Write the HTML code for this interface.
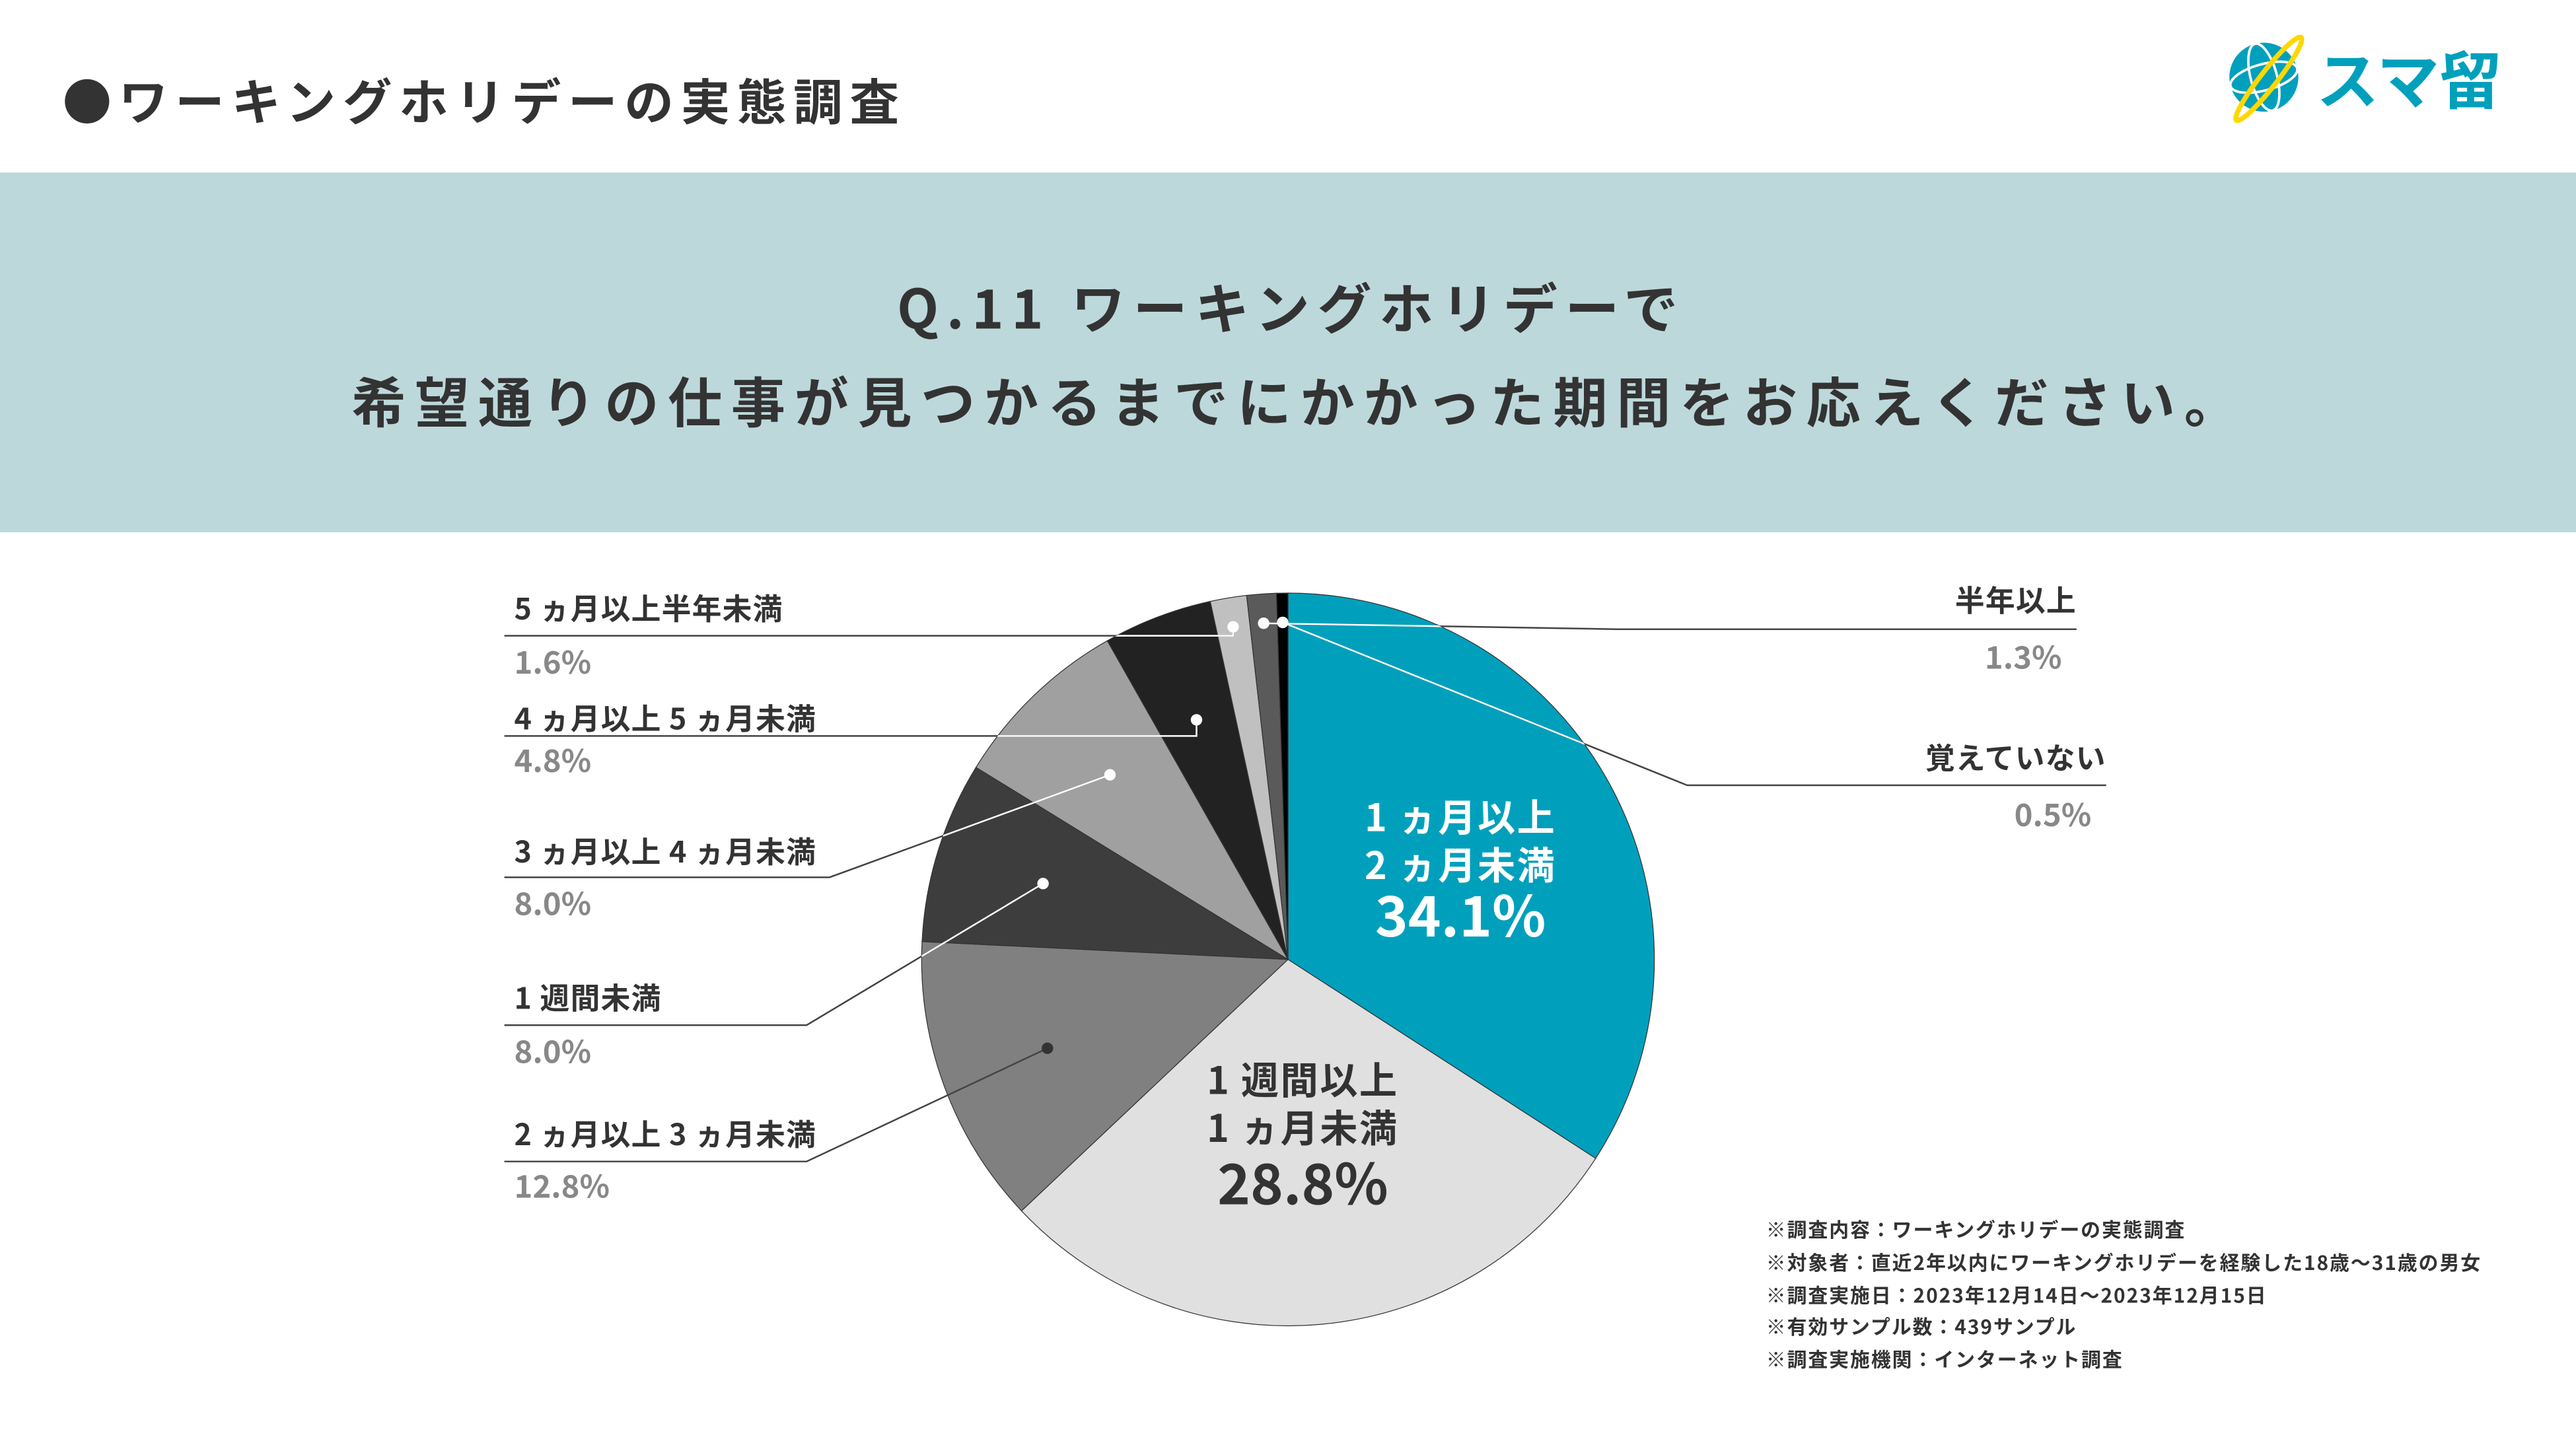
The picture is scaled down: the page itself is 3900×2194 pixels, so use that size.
<!DOCTYPE html>
<html><head><meta charset="utf-8">
<style>
html,body{margin:0;padding:0;background:#fff;}
svg{display:block;}
text{font-family:"Noto Sans CJK JP","Liberation Sans",sans-serif;font-weight:bold;}
</style></head>
<body>
<svg id="chart" width="3900" height="2194" viewBox="0 0 1568 882" preserveAspectRatio="none" xmlns="http://www.w3.org/2000/svg">
<defs><clipPath id="pieclip"><circle cx="784" cy="584" r="223"/></clipPath></defs>
<rect x="0" y="0" width="1568" height="882" fill="#ffffff"/>
<text x="38" y="73" font-size="30" fill="#333" letter-spacing="4.3">●ワーキングホリデーの実態調査</text>
<g>
<circle cx="1378" cy="47" r="21" fill="#00a0bc"/>
<ellipse cx="1378" cy="47" rx="21" ry="8" fill="none" stroke="#fff" stroke-width="1.5" transform="rotate(-15 1378 47)"/>
<ellipse cx="1378" cy="47" rx="8" ry="21" fill="none" stroke="#fff" stroke-width="1.5" transform="rotate(-15 1378 47)"/>
<ellipse cx="1381" cy="48" rx="32" ry="5" fill="none" stroke="#ffd700" stroke-width="3" transform="rotate(-52 1381 48)"/>
<text x="1410" y="63" font-size="38" fill="#00a0bc">スマ留</text>
</g>
<rect x="0" y="105" width="1568" height="219" fill="#bdd8db"/>
<text x="786" y="200" font-size="33" fill="#333" text-anchor="middle" letter-spacing="4.7">Q.11 ワーキングホリデーで</text>
<text x="791" y="257" font-size="33" fill="#333" text-anchor="middle" letter-spacing="5.5">希望通りの仕事が見つかるまでにかかった期間をお応えください。</text>
<g id="pie"></g>
<g id="labels"></g>
<g font-size="12" fill="#333" letter-spacing="0.8">
<text x="1075" y="753" font-weight="normal">※調査内容：ワーキングホリデーの実態調査</text>
<text x="1075" y="773" font-weight="normal">※対象者：直近2年以内にワーキングホリデーを経験した18歳〜31歳の男女</text>
<text x="1075" y="793" font-weight="normal">※調査実施日：2023年12月14日〜2023年12月15日</text>
<text x="1075" y="812" font-weight="normal">※有効サンプル数：439サンプル</text>
<text x="1075" y="832" font-weight="normal">※調査実施機関：インターネット調査</text>
</g>
</svg>
<script>
const categories = ["1ヵ月以上2ヵ月未満","1週間以上1ヵ月未満","2ヵ月以上3ヵ月未満","1週間未満","3ヵ月以上4ヵ月未満","4ヵ月以上5ヵ月未満","5ヵ月以上半年未満","半年以上","覚えていない"];
const values = [34.1, 28.8, 12.8, 8.0, 8.0, 4.8, 1.6, 1.3, 0.5];
const valueLabels = ["34.1%","28.8%","12.8%","8.0%","8.0%","4.8%","1.6%","1.3%","0.5%"];
const colors = ["#00a0bc","#e0e0e0","#808080","#3d3d3d","#a0a0a0","#222222","#c0c0c0","#5a5a5a","#000000"];

const NS="http://www.w3.org/2000/svg";
const cx=784, cy=584, R=223;
const total=values.reduce((a,b)=>a+b,0);
function pt(frac,r){const a=frac*2*Math.PI;return [cx+r*Math.sin(a), cy-r*Math.cos(a)];}
function mk(tag,attrs,parent){const e=document.createElementNS(NS,tag);for(const k in attrs)e.setAttribute(k,attrs[k]);parent.appendChild(e);return e;}
const pie=document.getElementById('pie'), lab=document.getElementById('labels');
let acc=0; const mids=[];
values.forEach((v,i)=>{
  const s=acc/total, e=(acc+v)/total; acc+=v; mids.push((s+e)/2);
  const p0=pt(s,R), p1=pt(e,R), large=(e-s)>0.5?1:0;
  const p=mk('path',{d:`M${cx},${cy} L${p0[0]},${p0[1]} A${R},${R} 0 ${large} 1 ${p1[0]},${p1[1]} Z`,fill:colors[i],stroke:"#333","stroke-width":"0.5"},pie);
  
  
});
const inside=[{i:0,x:889,y:[506,535,570],fill:"#fff"},{i:1,x:793,y:[666,695,733],fill:"#333"}];
const insideLines=[["1 ヵ月以上","2 ヵ月未満"],["1 週間以上","1 ヵ月未満"]];
inside.forEach((o,k)=>{
  insideLines[k].forEach((t,j)=>{const e=mk('text',{x:o.x,y:o.y[j],"font-size":"23",fill:o.fill,"text-anchor":"middle","letter-spacing":"1"},lab);e.textContent=t;
    
    });
  const e=mk('text',{x:o.x,y:o.y[2],"font-size":"34",fill:o.fill,"text-anchor":"middle"},lab);e.textContent=valueLabels[o.i];
  
  
});
const outside=[
 [6,'L',"5 ヵ月以上半年未満",377,387,307,null,410],
 [5,'L',"4 ヵ月以上 5 ヵ月未満",444,448,307,null,470],
 [4,'L',"3 ヵ月以上 4 ヵ月未満",525,534,307,505,557],
 [3,'L',"1 週間未満",614,624,307,491,647],
 [2,'L',"2 ヵ月以上 3 ヵ月未満",697,707,307,491,729],
 [7,'R',"半年以上",372,383,1264,985,407],
 [8,'R',"覚えていない",468,478,1282,1027,503]
];
outside.forEach(o=>{
  const [i,side,txt,ty,ly,lx,bx,py]=o;
  const frac=values[i]/total<0.02?0.92:0.7;
  const d=pt(mids[i],R*frac);
  const dotFill=i===2?"#333":"#fff";
  const elbow=bx===null?d[0]:bx;
  const pts=`${lx},${ly} ${elbow},${ly} ${d[0]},${d[1]}`;
  const pl=mk('polyline',{points:pts,fill:"none",stroke:"#444","stroke-width":"1"},lab);
  
  
  if(i!==2){
    const ov=mk('polyline',{points:pts,fill:"none",stroke:"#fff","stroke-width":"1","clip-path":"url(#pieclip)"},lab);
    
    
  }
  const c=mk('circle',{cx:d[0],cy:d[1],r:3.5,fill:dotFill},lab);
  
  
  const tx=side==='L'?313:lx, anc=side==='L'?'start':'end';
  const t=mk('text',{x:tx,y:ty,"font-size":"18",fill:"#333","text-anchor":anc,"letter-spacing":"0.5"},lab);t.textContent=txt;
  
  
  const p=mk('text',{x:side==='L'?313:lx-9,y:py,"font-size":"19",fill:"#888","text-anchor":anc},lab);p.textContent=valueLabels[i];
  
  
});
</script>
</body></html>
